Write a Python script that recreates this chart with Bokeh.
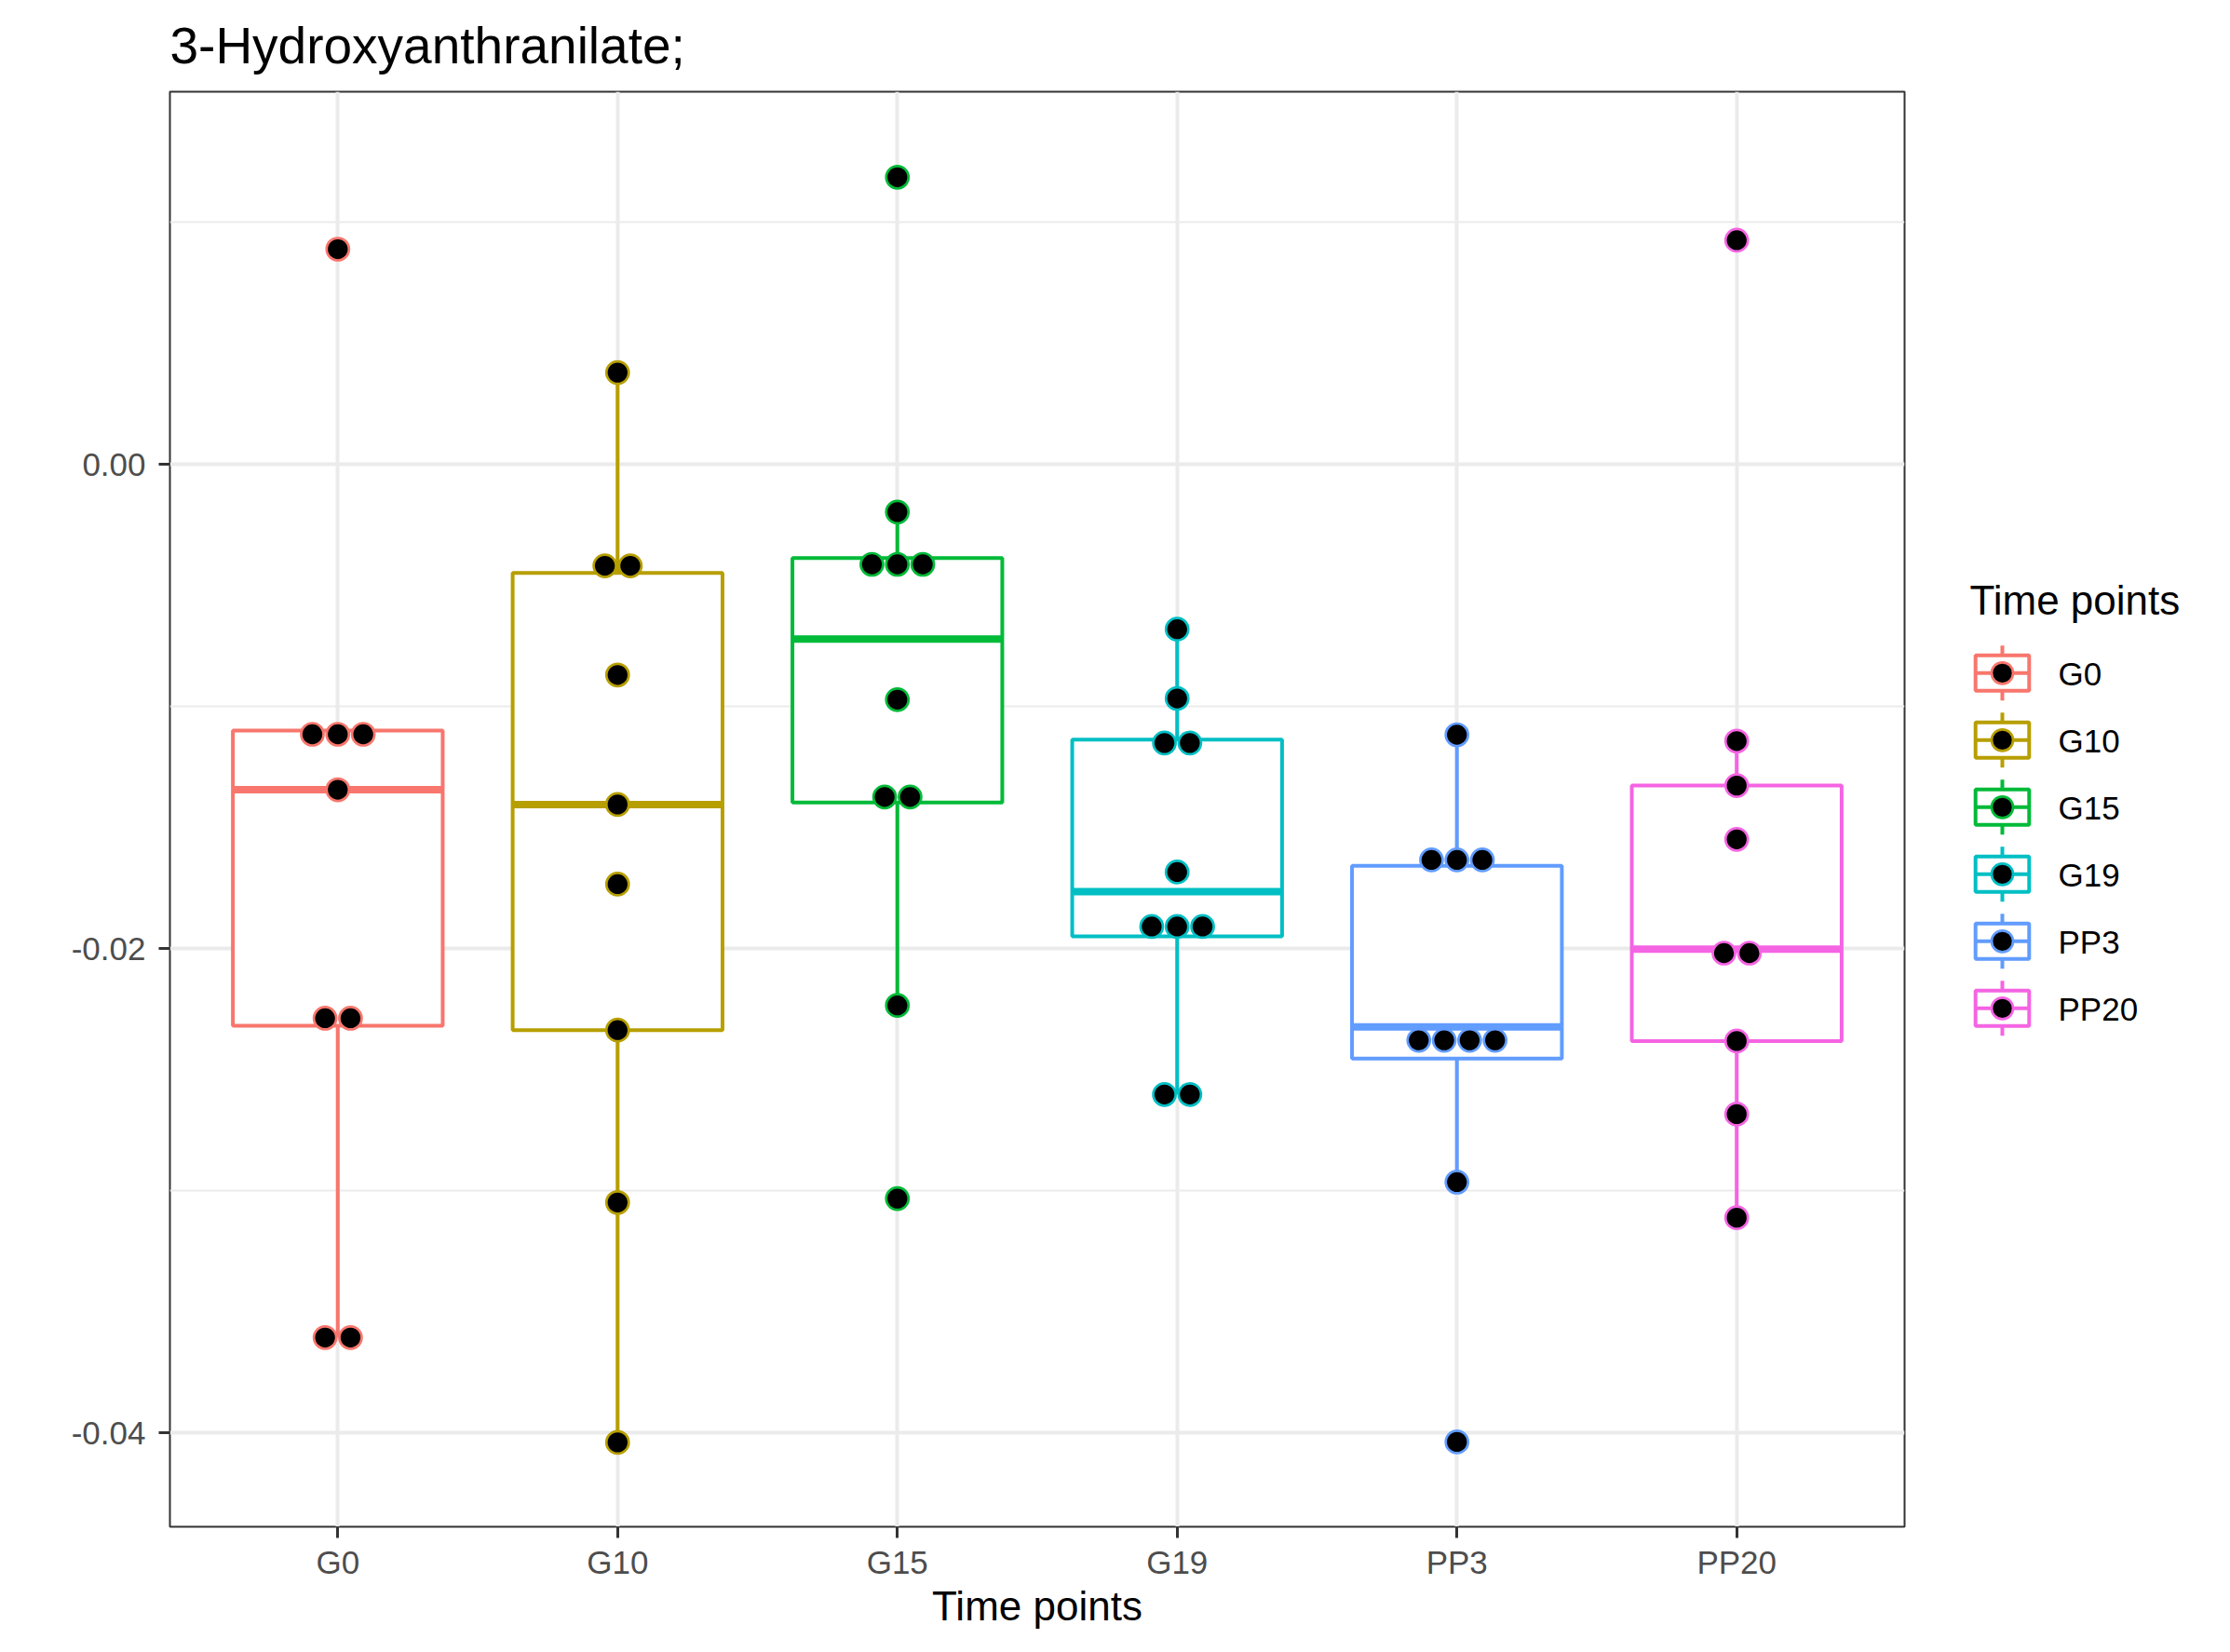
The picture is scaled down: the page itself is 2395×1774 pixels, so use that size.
from bokeh.plotting import figure
from bokeh.layouts import row
from bokeh.models import Range1d, FixedTicker, PrintfTickFormatter
from bokeh.core.properties import value
from bokeh.embed import file_html
from bokeh.resources import INLINE

# ---------------- data ----------------
title = "3-Hydroxyanthranilate;"
x_title = "Time points"
legend_title = "Time points"
groups = ["G0", "G10", "G15", "G19", "PP3", "PP20"]
colors = ["#F8766D", "#B79F00", "#00BA38", "#00BFC4", "#619CFF", "#F564E3"]

g0 = [0.00889, -0.01115, -0.01115, -0.01115, -0.01344, -0.02288, -0.02288, -0.03607, -0.03607]
g10 = [0.00379, -0.00419, -0.00419, -0.00870, -0.01405, -0.01734, -0.02337, -0.03049, -0.04040]
g15 = [0.01186, -0.00197, -0.00413, -0.00413, -0.00413, -0.00972, -0.01374, -0.01374, -0.02235, -0.03033]
g19 = [-0.00681, -0.00967, -0.01151, -0.01151, -0.01684, -0.01909, -0.01909, -0.01909, -0.02603, -0.02603]
pp3 = [-0.01117, -0.01634, -0.01634, -0.01634, -0.02379, -0.02379, -0.02379, -0.02379, -0.02965, -0.04038]
pp20 = [0.00926, -0.01143, -0.01327, -0.01549, -0.02019, -0.02019, -0.02382, -0.02684, -0.03112]
values = [g0, g10, g15, g19, pp3, pp20]

# boxplot statistics
q3 = [-0.01100, -0.00449, -0.00387, -0.01137, -0.01658, -0.01327]
median = [-0.01344, -0.01405, -0.00722, -0.01765, -0.02324, -0.02003]
q1 = [-0.02319, -0.02337, -0.01397, -0.01950, -0.02455, -0.02382]
whisker_low = [-0.03607, -0.04040, -0.02235, -0.02603, -0.02965, -0.03112]
whisker_high = [-0.01115, 0.00379, -0.00197, -0.00681, -0.01117, -0.01143]

y_ticks = [-0.04, -0.02, 0.0]
y_minor = [-0.03, -0.01, 0.01]
y_lo, y_hi = -0.043885, 0.015392

# ---------------- styling ----------------
FONT = "Liberation Sans"
W_MAIN, W_LEG, H = 2088, 307, 1774
FR_TOP, FR_BOTTOM = 98, 1639
GRID = "#EBEBEB"
DARK = "#333333"
BOX_W = 0.75
DOT_STEP = 0.0909

p = figure(width=W_MAIN, height=H, x_range=Range1d(-0.6, len(groups) - 0.4),
           y_range=Range1d(y_lo, y_hi), output_backend="svg", toolbar_location=None,
           min_border_left=182, min_border_right=43, min_border_top=FR_TOP,
           min_border_bottom=H - FR_BOTTOM, title=title)
p.background_fill_color = "white"
p.border_fill_color = "white"
p.outline_line_color = DARK
p.outline_line_width = 2

p.title.text_font = FONT
p.title.text_font_size = "55px"
p.title.text_font_style = "normal"
p.title.text_color = "black"
p.title.align = "left"
p.title.vertical_align = "top"
p.title.standoff = 33

xt = list(range(len(groups)))
p.xaxis.ticker = FixedTicker(ticks=xt)
p.xaxis.major_label_overrides = {i: g for i, g in enumerate(groups)}
p.yaxis.ticker = FixedTicker(ticks=y_ticks, minor_ticks=y_minor)
p.yaxis.formatter = PrintfTickFormatter(format="%.2f")

for ax in (p.xaxis[0], p.yaxis[0]):
    ax.axis_line_color = None
    ax.major_tick_line_color = DARK
    ax.major_tick_line_width = 3
    ax.major_tick_in = 0
    ax.major_tick_out = 12
    ax.minor_tick_line_color = None
    ax.major_label_text_font = FONT
    ax.major_label_text_font_size = "35px"
    ax.major_label_text_color = "#4D4D4D"
p.xaxis.major_label_standoff = 6
p.yaxis.major_label_standoff = 14
p.xaxis.axis_label = x_title
p.xaxis.axis_label_text_font = FONT
p.xaxis.axis_label_text_font_size = "44px"
p.xaxis.axis_label_text_font_style = "normal"
p.xaxis.axis_label_text_color = "black"
p.xaxis.axis_label_standoff = 0

p.xgrid.grid_line_color = GRID
p.xgrid.grid_line_width = 4
p.ygrid.grid_line_color = GRID
p.ygrid.grid_line_width = 4
p.ygrid.minor_grid_line_color = GRID
p.ygrid.minor_grid_line_width = 2

# ---------------- boxes ----------------
left = [i - BOX_W / 2 for i in xt]
right = [i + BOX_W / 2 for i in xt]
p.segment(x0=xt, x1=xt, y0=q3, y1=whisker_high, line_color=colors, line_width=4)
p.segment(x0=xt, x1=xt, y0=q1, y1=whisker_low, line_color=colors, line_width=4)
p.quad(left=left, right=right, bottom=q1, top=q3, fill_color="white",
       line_color=colors, line_width=4)
p.segment(x0=left, x1=right, y0=median, y1=median, line_color=colors, line_width=8)

# ---------------- dots (centred stacks) ----------------
dx, dy, dc = [], [], []
for i, (vals, col) in enumerate(zip(values, colors)):
    seen = []
    for v in vals:
        if v not in seen:
            seen.append(v)
    for u in seen:
        n = vals.count(u)
        for k in range(n):
            dx.append(i + (k - (n - 1) / 2) * DOT_STEP)
            dy.append(u)
            dc.append(col)
p.scatter(x=dx, y=dy, size=24, fill_color="black", line_color=dc, line_width=2.7)

# ---------------- legend (separate panel, page-pixel coordinates) ----------------
lg = figure(width=W_LEG, height=H, x_range=Range1d(0, W_LEG),
            y_range=Range1d(FR_BOTTOM, FR_TOP),
            output_backend="svg", toolbar_location=None,
            min_border_left=0, min_border_right=0, min_border_top=FR_TOP,
            min_border_bottom=H - FR_BOTTOM,
            x_axis_location=None, y_axis_location=None)
lg.grid.visible = False
lg.outline_line_color = None
lg.background_fill_color = "white"
lg.border_fill_color = "white"

key_cx, row0, row_step = 62, 722.3, 72
box_hw, box_hh, whisk = 28.8, 19, 29.5
rows = [row0 + row_step * i for i in range(len(groups))]
kx = [key_cx] * len(groups)
lg.segment(x0=kx, x1=kx, y0=[r - whisk for r in rows], y1=[r + whisk for r in rows],
           line_color=colors, line_width=4)
lg.quad(left=[key_cx - box_hw] * len(groups), right=[key_cx + box_hw] * len(groups),
        top=[r - box_hh for r in rows], bottom=[r + box_hh for r in rows],
        fill_color="white", line_color=colors, line_width=4)
lg.segment(x0=[key_cx - box_hw] * len(groups), x1=[key_cx + box_hw] * len(groups),
           y0=rows, y1=rows, line_color=colors, line_width=4)
lg.scatter(x=kx, y=rows, size=23, fill_color="black", line_color=colors, line_width=2.7)
lg.text(x=[122] * len(groups), y=[r + 0.5 for r in rows], text=groups,
        text_font=value(FONT), text_font_size=value("35px"), text_color="black",
        text_baseline="middle", text_align="left")
lg.text(x=[27], y=[644], text=[legend_title], text_font=value(FONT),
        text_font_size=value("44px"), text_color="black",
        text_baseline="middle", text_align="left")

layout = row(p, lg)
open("out.html", "w").write(file_html(layout, INLINE))
